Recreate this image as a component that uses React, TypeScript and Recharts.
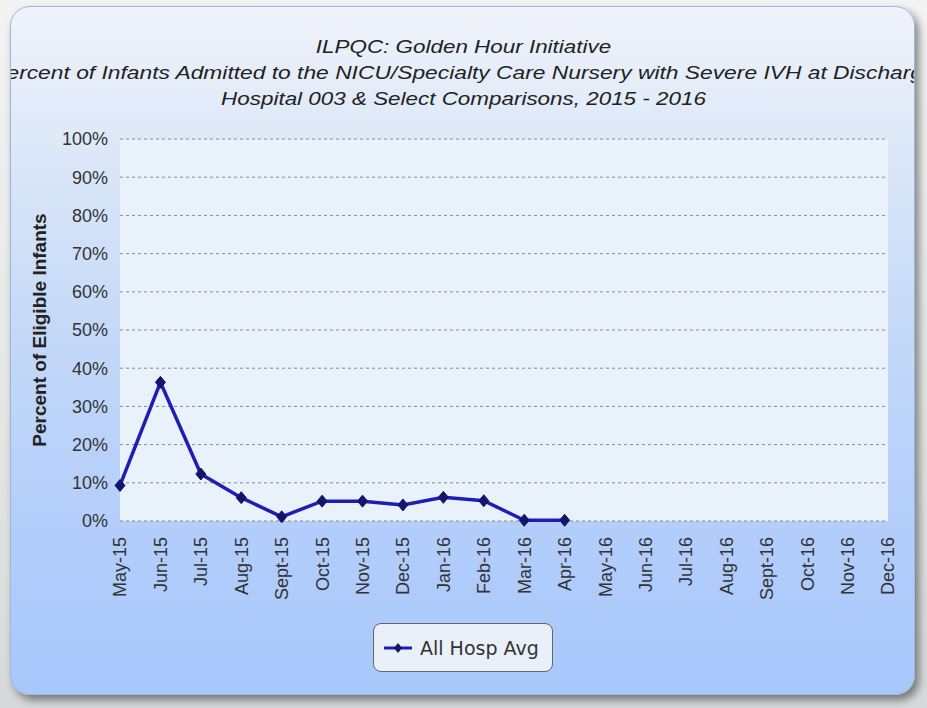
import React from 'react';
import { LineChart, Line, XAxis, YAxis, CartesianGrid, Legend } from 'recharts';

const months = [
  'May-15', 'Jun-15', 'Jul-15', 'Aug-15', 'Sept-15', 'Oct-15', 'Nov-15', 'Dec-15',
  'Jan-16', 'Feb-16', 'Mar-16', 'Apr-16', 'May-16', 'Jun-16', 'Jul-16', 'Aug-16',
  'Sept-16', 'Oct-16', 'Nov-16', 'Dec-16',
];
const allHospAvg: (number | null)[] = [
  9.3, 36.3, 12.3, 6.1, 1.1, 5.2, 5.2, 4.2, 6.2, 5.3, 0.2, 0.2,
  null, null, null, null, null, null, null, null,
];
const yTicks = [0, 10, 20, 30, 40, 50, 60, 70, 80, 90, 100];
const titleLines = [
  'ILPQC: Golden Hour Initiative',
  'Percent of Infants Admitted to the NICU/Specialty Care Nursery with Severe IVH at Discharge',
  'Hospital 003 & Select Comparisons, 2015 - 2016',
];
const yAxisTitle = 'Percent of Eligible Infants';
const seriesName = 'All Hosp Avg';

const data = months.map((m, i) => ({ month: m, avg: allHospAvg[i] }));

const LINE_COLOR = '#1e1eb6';
const DOT_COLOR = '#14146a';
const FONT = '"Liberation Sans", Arial, sans-serif';

const Diamond = (props: any) => {
  const { cx, cy, value, index } = props;
  if (cx == null || cy == null || value == null) return <g key={`d${index}`} />;
  return (
    <polygon
      key={`d${index}`}
      points={`${cx},${cy - 6} ${cx + 5},${cy} ${cx},${cy + 6} ${cx - 5},${cy}`}
      fill={DOT_COLOR}
      stroke={DOT_COLOR}
      strokeWidth={1}
    />
  );
};

const XTick = (props: any) => {
  const { x, y, payload } = props;
  return (
    <text
      x={x}
      y={y}
      transform={`rotate(-90, ${x}, ${y})`}
      textAnchor="end"
      dy="0.36em"
      fontSize={18}
      fill="#333"
      fontFamily={FONT}
    >
      {payload.value}
    </text>
  );
};

const YTitle = (props: any) => {
  const x = 46;
  const y = 330;
  return (
    <text
      x={x}
      y={y}
      transform={`rotate(-90, ${x}, ${y})`}
      textAnchor="middle"
      fontSize={19}
      fontWeight="bold"
      fill="#222"
      fontFamily={FONT}
    >
      {yAxisTitle}
    </text>
  );
};

const LegendContent = () => (
  <div
    style={{
      boxSizing: 'border-box',
      width: 180,
      height: 49,
      border: '1px solid #666',
      borderRadius: 8,
      background: '#e9f0f9',
      display: 'flex',
      alignItems: 'center',
      paddingLeft: 10,
    }}
  >
    <svg width={30} height={14} style={{ display: 'block' }}>
      <line x1={0} y1={7} x2={28} y2={7} stroke={LINE_COLOR} strokeWidth={3} />
      <polygon points="14,2 18,7 14,12 10,7" fill={DOT_COLOR} />
    </svg>
    <span style={{ marginLeft: 6, fontFamily: '"DejaVu Sans", Verdana, sans-serif', fontSize: 19, color: '#333', whiteSpace: 'nowrap' }}>
      {seriesName}
    </span>
  </div>
);

export default function App() {
  return (
    <div
      style={{
        position: 'fixed',
        left: 0,
        top: 0,
        width: 927,
        height: 708,
        overflow: 'hidden',
        background: 'linear-gradient(180deg, #f3f3f3 0%, #e4e6e6 60%, #d6d9d9 100%)',
      }}
    >
      <div
        style={{
          position: 'absolute',
          left: 10,
          top: 6,
          width: 905,
          height: 689,
          boxSizing: 'border-box',
          borderRadius: 20,
          border: '1px solid #9cb6e2',
          background: 'linear-gradient(180deg, #eff3fa 0%, #dde8f8 20%, #c6daf8 45%, #b3cefb 75%, #a8c8fc 100%)',
          boxShadow: '4px 5px 8px rgba(0,0,0,0.45)',
          overflow: 'hidden',
        }}
      >
        <div
          style={{
            position: 'absolute',
            left: 0,
            top: 27,
            width: 905,
            textAlign: 'center',
            fontFamily: FONT,
            fontStyle: 'italic',
            fontSize: 19,
            lineHeight: '26px',
            color: '#222',
          }}
        >
          {titleLines.map((t, i) => (
            <div
              key={i}
              style={{
                whiteSpace: 'nowrap',
                transform: i === 1 ? 'scaleX(1.2)' : 'scaleX(1.18)',
                transformOrigin: '50% 50%',
              }}
            >
              {t}
            </div>
          ))}
        </div>
      </div>
      <div style={{ position: 'absolute', left: 0, top: 0 }}>
        <LineChart width={927} height={708} data={data} margin={{ top: 139, right: 39, bottom: 107, left: 0 }}>
          <CartesianGrid horizontal vertical={false} stroke="#888" strokeDasharray="3 3" fill="#e9f1fa" />
          <XAxis
            dataKey="month"
            interval={0}
            axisLine={false}
            tickLine={false}
            tickSize={6}
            tickMargin={10}
            height={80}
            tick={<XTick />}
          />
          <YAxis
            domain={[0, 100]}
            ticks={yTicks}
            width={120}
            axisLine={false}
            tickLine={false}
            tickSize={6}
            tickMargin={6}
            tickFormatter={(v: number) => `${v}%`}
            tick={{ fontSize: 18, fill: '#333', fontFamily: FONT }}
            label={<YTitle />}
          />
          <Legend
            layout="vertical"
            align="center"
            verticalAlign="middle"
            content={<LegendContent />}
            wrapperStyle={{ position: 'absolute', left: 373, top: 623, width: 180, height: 49 }}
          />
          <Line
            type="linear"
            dataKey="avg"
            name={seriesName}
            stroke={LINE_COLOR}
            strokeWidth={3.5}
            dot={<Diamond />}
            activeDot={false}
            connectNulls={false}
            isAnimationActive={false}
          />
        </LineChart>
      </div>
    </div>
  );
}
